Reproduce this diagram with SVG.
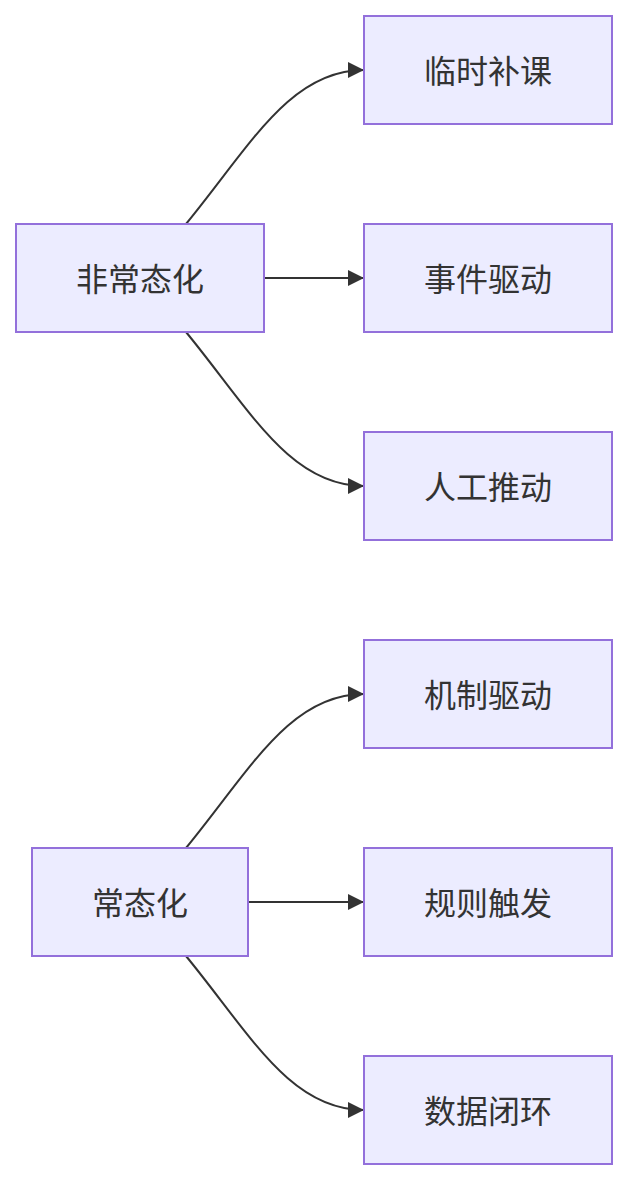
<svg xmlns="http://www.w3.org/2000/svg" width="628" height="1180" viewBox="0 0 628 1180">
<style>
.node rect{fill:#ECECFF;stroke:#9370DB;stroke-width:2px}
.node text{font-family:"Noto Sans CJK SC","Noto Sans",sans-serif;font-size:32px;fill:#333333;text-anchor:middle;dominant-baseline:central}
.edge{fill:none;stroke:#333333;stroke-width:2px;marker-end:url(#arrow)}
</style>
<defs>
<marker id="arrow" markerUnits="userSpaceOnUse" markerWidth="16" markerHeight="16" viewBox="0 0 16 16" refX="16" refY="8" orient="auto">
<path d="M0,0 L16,8 L0,16 z" fill="#333333"/>
</marker>
</defs>
<rect width="628" height="1180" fill="#ffffff"/>
<g id="edges">
<path class="edge" d="M186,224 C250,146 290,70 364,70"/>
<path class="edge" d="M264,278 L364,278"/>
<path class="edge" d="M186,332 C250,410 290,486 364,486"/>
<path class="edge" d="M186,848 C250,770 290,694 364,694"/>
<path class="edge" d="M248,902 L364,902"/>
<path class="edge" d="M186,956 C250,1034 290,1110 364,1110"/>
</g>
<g id="n1" class="node"><rect x="16" y="224" width="248" height="108"/><text x="140" y="277">非常态化</text></g>
<g id="n2" class="node"><rect x="364" y="16" width="248" height="108"/><text x="488" y="69">临时补课</text></g>
<g id="n3" class="node"><rect x="364" y="224" width="248" height="108"/><text x="488" y="277">事件驱动</text></g>
<g id="n4" class="node"><rect x="364" y="432" width="248" height="108"/><text x="488" y="485">人工推动</text></g>
<g id="n5" class="node"><rect x="32" y="848" width="216" height="108"/><text x="140" y="901">常态化</text></g>
<g id="n6" class="node"><rect x="364" y="640" width="248" height="108"/><text x="488" y="693">机制驱动</text></g>
<g id="n7" class="node"><rect x="364" y="848" width="248" height="108"/><text x="488" y="901">规则触发</text></g>
<g id="n8" class="node"><rect x="364" y="1056" width="248" height="108"/><text x="488" y="1109">数据闭环</text></g>
</svg>
